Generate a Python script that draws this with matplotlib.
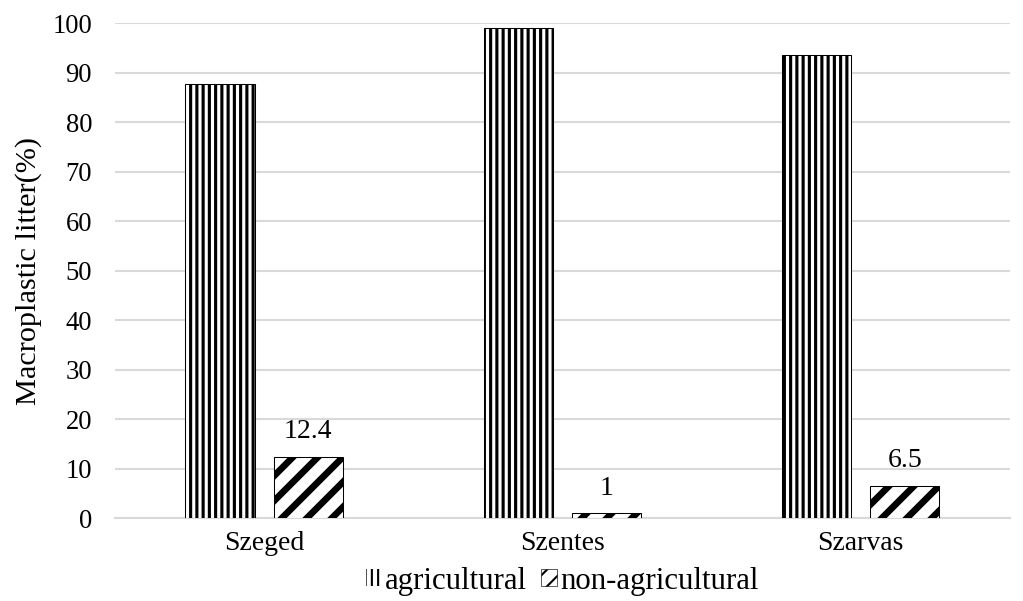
import matplotlib

matplotlib.use("Agg")
import matplotlib.pyplot as plt
import numpy as np
from matplotlib.patches import Patch

sites = ["Szeged", "Szentes", "Szarvas"]
agricultural = [87.6, 99.0, 93.5]
non_agricultural = [12.4, 1.0, 6.5]
y_ticks = [0, 10, 20, 30, 40, 50, 60, 70, 80, 90, 100]

plt.rcParams["font.family"] = ["Liberation Serif", "DejaVu Serif"]

# 150 dpi keeps the hatch spacing close to the Excel pattern fills
fig = plt.figure(figsize=(6.82, 4.0067), dpi=150)
ax = fig.add_axes([0.1124, 0.138, 0.8746, 0.8237])

x = np.arange(len(sites))
w = 0.232
off = 0.148


def hatched_bars(xs, vals, hatch, lw):
    plt.rcParams["hatch.linewidth"] = lw
    bars = ax.bar(xs, vals, w, color="white", edgecolor="black",
                  linewidth=0.5, hatch=hatch, zorder=3)
    for b in bars:
        try:
            b.set_hatch_linewidth(lw)
        except AttributeError:
            pass
    return bars


hatched_bars(x - off, agricultural, "||||", 1.5)
nb = hatched_bars(x + off, non_agricultural, "//", 3.2)

for b, v in zip(nb, non_agricultural):
    ax.annotate(f"{v:g}", (b.get_x() + b.get_width() / 2, v),
                xytext=(0, 6), textcoords="offset points",
                ha="center", va="bottom", fontsize=13.3)

ax.set_xlim(-0.5, 2.5)
ax.set_ylim(0, 100)
ax.set_yticks(y_ticks)
ax.set_xticks(x)
ax.set_xticklabels(sites)
ax.tick_params(axis="both", length=0, labelsize=13.3, pad=6)
ax.tick_params(axis="y", labelsize=12.8, pad=11)
ax.grid(axis="y", color="#d9d9d9", linewidth=1.0, zorder=0)
ax.set_axisbelow(True)
for s in ("left", "right", "top"):
    ax.spines[s].set_visible(False)
ax.spines["bottom"].set_color("#d9d9d9")
ax.spines["bottom"].set_linewidth(1.0)
ax.set_ylabel("Macroplastic litter(%)", fontsize=14.5, labelpad=5)

plt.rcParams["hatch.linewidth"] = 1.5
h_agri = Patch(facecolor="white", edgecolor="black", linewidth=0,
               hatch="||||", label="agricultural")
plt.rcParams["hatch.linewidth"] = 1.0
h_non = Patch(facecolor="white", edgecolor="black", linewidth=0.3,
              hatch="///", label="non-agricultural")
ax.legend(handles=[h_agri, h_non], loc="upper center",
          bbox_to_anchor=(0.5, -0.042), ncol=2, frameon=False,
          fontsize=14.8, handlelength=0.5, handleheight=0.5,
          handletextpad=0.12, columnspacing=0.45)

fig.savefig("out.png", dpi=150)
